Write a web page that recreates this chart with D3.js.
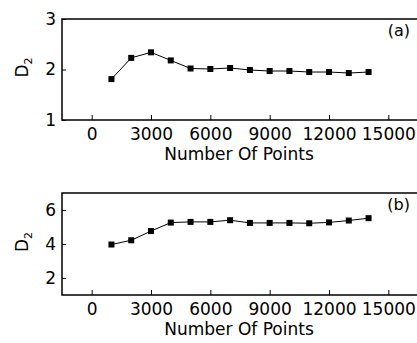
<!DOCTYPE html>
<html>
<head>
<meta charset="utf-8">
<script src="https://cdn.jsdelivr.net/npm/d3@7"></script>
<style>
  body { margin: 0; background: #fff; }
  svg { display: block; }
  text { font-family: "DejaVu Sans", "Liberation Sans", Arial, sans-serif; fill: #000; }
</style>
</head>
<body>
<svg id="chart" width="417" height="343"></svg>
<script>
// data
const nPoints = [1000, 2000, 3000, 4000, 5000, 6000, 7000, 8000, 9000, 10000, 11000, 12000, 13000, 14000];
const d2_a = [1.81, 2.23, 2.34, 2.18, 2.02, 2.01, 2.03, 1.99, 1.97, 1.97, 1.95, 1.95, 1.93, 1.95];
const d2_b = [3.97, 4.22, 4.76, 5.26, 5.30, 5.30, 5.40, 5.24, 5.24, 5.24, 5.22, 5.27, 5.38, 5.52];
const xTicks = [0, 3000, 6000, 9000, 12000, 15000];
const yTicks_a = [1, 2, 3];
const yTicks_b = [2, 4, 6];

const svg = d3.select("#chart");

// shared x scale, the right side of the frame is cut off by the image edge
const x = d3.scaleLinear().domain([-1500, 16500]).range([62, 418]);

function panel(values, yDomain, yTicks, top, bottom, tag) {
    const y = d3.scaleLinear().domain(yDomain).range([bottom, top]);
    const g = svg.append("g");

    // x axis, ticks pointing inward
    const xAxis = g.append("g")
        .attr("transform", "translate(0," + bottom + ")")
        .call(d3.axisBottom(x).tickValues(xTicks).tickSize(-5).tickPadding(7.5)
            .tickFormat(d3.format("d")));
    // y axis
    const yAxis = g.append("g")
        .attr("transform", "translate(62,0)")
        .call(d3.axisLeft(y).tickValues(yTicks).tickSize(-4).tickPadding(6)
            .tickFormat(d3.format("d")));

    [xAxis, yAxis].forEach(function (a) {
        a.select(".domain").remove();
        a.selectAll(".tick line").attr("stroke", "#000").attr("stroke-width", 1);
        a.selectAll("text").style("font-size", "17px").attr("fill", "#000");
    });

    // frame (top, left, bottom)
    g.append("path")
        .attr("d", "M418," + top + "H62V" + bottom + "H418")
        .attr("fill", "none")
        .attr("stroke", "#000")
        .attr("stroke-width", 1.5);

    const line = d3.line()
        .x(function (d, i) { return x(nPoints[i]); })
        .y(function (d) { return y(d); });

    g.append("path")
        .datum(values)
        .attr("d", line)
        .attr("fill", "none")
        .attr("stroke", "#000")
        .attr("stroke-width", 1);

    g.selectAll(".pt")
        .data(values)
        .enter().append("rect")
        .attr("class", "pt")
        .attr("x", function (d, i) { return x(nPoints[i]) - 3; })
        .attr("y", function (d) { return y(d) - 3; })
        .attr("width", 6)
        .attr("height", 6)
        .attr("fill", "#000");

    // x axis title
    g.append("text")
        .attr("x", 239)
        .attr("y", bottom + 40)
        .attr("text-anchor", "middle")
        .style("font-size", "17px")
        .text("Number Of Points");

    // y axis title D2
    const yl = g.append("text")
        .attr("transform", "translate(28," + ((top + bottom) / 2 - 2) + ") rotate(-90)")
        .attr("text-anchor", "middle")
        .style("font-size", "17px");
    yl.append("tspan").text("D");
    yl.append("tspan").attr("dy", 4).style("font-size", "11px").text("2");

    // panel tag
    g.append("text")
        .attr("x", 410)
        .attr("y", top + 17)
        .attr("text-anchor", "end")
        .style("font-size", "16px")
        .text(tag);
}

panel(d2_a, [1, 3], yTicks_a, 19, 120, "(a)");
panel(d2_b, [1, 7], yTicks_b, 193, 295, "(b)");
</script>
</body>
</html>
